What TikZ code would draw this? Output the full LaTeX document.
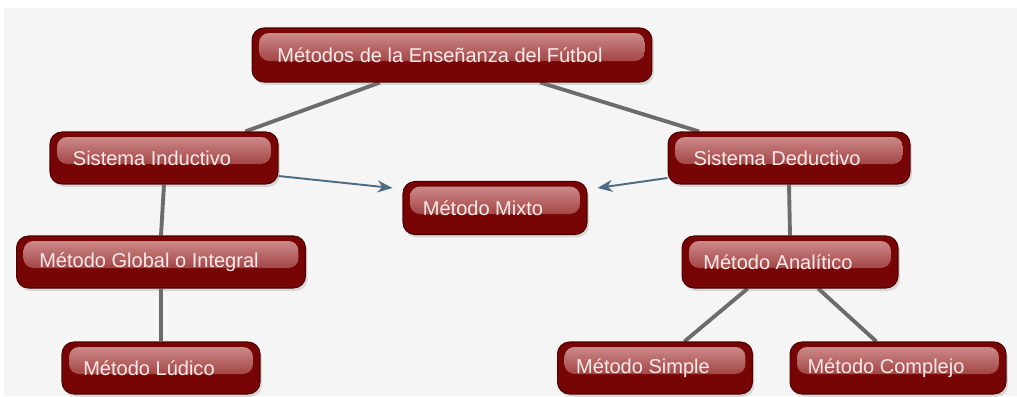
\documentclass[tikz,border=0pt]{standalone}
\usepackage{fontspec}
\setmainfont{Liberation Sans}
\usetikzlibrary{calc,arrows.meta,shadows,backgrounds}
\definecolor{boxred}{RGB}{120,5,5}
\definecolor{boxedge}{RGB}{80,0,0}
\definecolor{shinetop}{RGB}{212,150,150}
\definecolor{shinemid}{RGB}{172,72,72}
\definecolor{shinebot}{RGB}{132,18,18}
\definecolor{linkgray}{RGB}{108,108,108}
\definecolor{arrowblue}{RGB}{78,108,132}
\definecolor{paper}{RGB}{245,245,245}
\tikzset{
  metodo/.style={draw=boxedge, line width=0.6pt, fill=boxred, rounded corners=0.24cm,
    minimum height=1.04cm, text=white!92!red, font=\fontsize{11.4}{13}\selectfont,
    drop shadow={opacity=0.25, shadow xshift=0.04cm, shadow yshift=-0.06cm},
    path picture={\shade[top color=shinetop, middle color=shinemid, bottom color=shinebot, rounded corners=0.2cm]
      ($(path picture bounding box.north west)+(0.14cm,-0.1cm)$) rectangle
      ($(path picture bounding box.east)+(-0.14cm,-0.12cm)$);},
    execute at end node={\hspace*{1.2em}}},
  enlace/.style={linkgray, line width=2.2pt},
  flecha/.style={arrowblue, line width=1.1pt, -{Stealth[length=0.3cm,width=0.24cm]}}
}
\begin{document}
\begin{tikzpicture}[x=0.02cm, y=-0.02cm]
    \useasboundingbox (0,0) rectangle (1017,396);
        \node[metodo, minimum width=8cm, minimum height=1.08cm] (top) at (452,55) {Métodos de la Enseñanza del Fútbol};
        \node[metodo, minimum width=4.56cm] (ind) at (164,158) {Sistema Inductivo};
        \node[metodo, minimum width=4.84cm] (ded) at (789,158) {Sistema Deductivo};
        \node[metodo, minimum width=3.68cm, minimum height=1.06cm] (mix) at (495,208) {Método Mixto};
        \node[metodo, minimum width=5.78cm] (glo) at (161,262) {Método Global o Integral};
        \node[metodo, minimum width=4.32cm] (ana) at (790,262) {Método Analítico};
        \node[metodo, minimum width=3.96cm] (lud) at (161,368) {Método Lúdico};
        \node[metodo, minimum width=3.9cm] (sim) at (655,368) {Método Simple};
        \node[metodo, minimum width=4.32cm] (com) at (898,368) {Método Complejo};
        \begin{scope}[on background layer]
        \fill[paper] (4,8) rectangle (1017,396);
        \draw[enlace] ($(top.south west)!0.32!(top.south east)$) -- ($(ind.north west)!0.855!(ind.north east)$);
        \draw[enlace] ($(top.south west)!0.72!(top.south east)$) -- ($(ded.north west)!0.13!(ded.north east)$);
        \draw[enlace] (ind.south) -- (glo.north);
        \draw[enlace] (glo.south) -- (lud.north);
        \draw[enlace] (ded.south) -- (ana.north);
        \draw[enlace] ($(ana.south west)!0.305!(ana.south east)$) -- ($(sim.north west)!0.65!(sim.north east)$);
        \draw[enlace] ($(ana.south west)!0.63!(ana.south east)$) -- ($(com.north west)!0.4!(com.north east)$);
        \end{scope}
        \draw[flecha] ([yshift=-0.36cm]ind.east) -- ([xshift=-0.2cm,yshift=0.4cm]mix.west);
        \draw[flecha] ([yshift=-0.4cm]ded.west) -- ([xshift=0.2cm,yshift=0.4cm]mix.east);
    \end{tikzpicture}
\end{document}
